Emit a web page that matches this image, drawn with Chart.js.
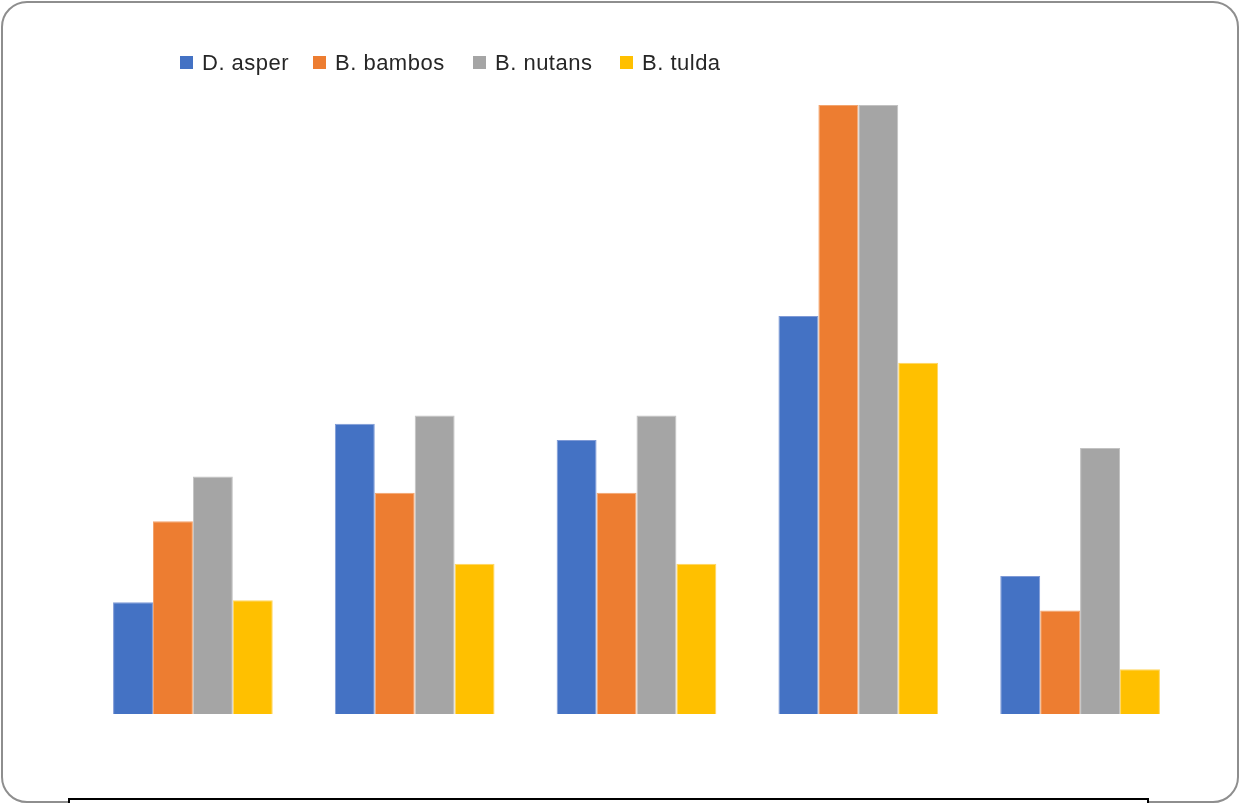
<!DOCTYPE html>
<html>
<head>
<meta charset="utf-8">
<script src="https://cdn.jsdelivr.net/npm/chart.js@4"></script>
<style>
  html, body { margin: 0; padding: 0; background: #ffffff; }
  #wrap { position: absolute; left: 0; top: 0; width: 1239px; height: 803px; overflow: hidden; background: #fff; }
  #frame { position: absolute; left: 1px; top: 1px; width: 1234px; height: 798px; border: 2px solid #8e8e8e; border-radius: 26px; box-sizing: content-box; }
  #box { position: absolute; left: 68px; top: 798px; width: 1077px; height: 20px; border: 2px solid #000; background: #fff; }
  #c { position: absolute; left: 0; top: 0; }
</style>
</head>
<body>
<div id="wrap">
  <div id="frame"></div>
  <div id="box"></div>
  <canvas id="c" width="1239" height="803"></canvas>
</div>
<script>
const categories = ["1", "2", "3", "4", "5"];
const seriesNames = ["D. asper", "B. bambos", "B. nutans", "B. tulda"];
const dAsper  = [5.5, 14.3, 13.5, 19.6, 6.8];
const bBambos = [9.5, 10.9, 10.9, 30.0, 5.1];
const bNutans = [11.7, 14.7, 14.7, 30.0, 13.1];
const bTulda  = [5.6, 7.4, 7.4, 17.3, 2.2];
const colors = ["#4472C4", "#ED7D31", "#A5A5A5", "#FFC000"];
const edgeColors = ["#7f9ad6", "#f2a46e", "#c2c2c2", "#ffd660"];
const yMax = 30;

const seriesValues = [dAsper, bBambos, bNutans, bTulda];

const legendPlugin = {
  id: 'customLegend',
  afterDraw(chart) {
    const ctx = chart.ctx;
    const starts = [180, 313, 473, 620];
    ctx.save();
    ctx.font = '22px "Liberation Sans", Arial, sans-serif';
    ctx.textBaseline = 'alphabetic';
    try { ctx.letterSpacing = '0.5px'; } catch (e) {}
    chart.data.datasets.forEach((ds, i) => {
      const x = starts[i];
      ctx.fillStyle = ds.backgroundColor;
      ctx.fillRect(x, 56, 13, 13);
      ctx.fillStyle = '#262626';
      ctx.fillText(ds.label, x + 22, 70);
    });
    ctx.restore();
  }
};

new Chart(document.getElementById('c'), {
  type: 'bar',
  data: {
    labels: categories,
    datasets: seriesNames.map((name, i) => ({
      label: name,
      data: seriesValues[i],
      backgroundColor: colors[i],
      borderColor: edgeColors[i],
      borderWidth: 1,
      categoryPercentage: 0.72,
      barPercentage: 1.0
    }))
  },
  options: {
    responsive: false,
    animation: false,
    devicePixelRatio: 1,
    layout: { padding: { left: 82, right: 48, top: 105, bottom: 89 } },
    plugins: { legend: { display: false }, tooltip: { enabled: false } },
    scales: {
      x: { display: false, offset: true, grid: { display: false } },
      y: { display: false, min: 0, max: yMax, grid: { display: false } }
    }
  },
  plugins: [legendPlugin]
});
</script>
</body>
</html>
